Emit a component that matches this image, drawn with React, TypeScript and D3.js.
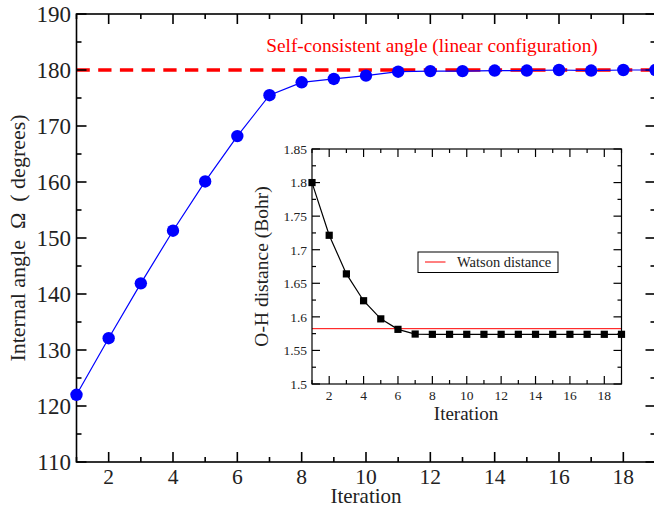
import React from "react";
import * as d3 from "d3";

const iterations = d3.range(1, 20);
const angleValues = [122.0, 132.1, 141.9, 151.3, 160.1, 168.2, 175.5, 177.8, 178.4, 179.0, 179.7, 179.8, 179.8, 179.9, 179.9, 180.0, 179.9, 180.0, 180.0];
const ohValues = [1.8, 1.7215, 1.664, 1.624, 1.597, 1.5814, 1.5744, 1.574, 1.574, 1.574, 1.574, 1.574, 1.574, 1.574, 1.574, 1.574, 1.574, 1.574, 1.574];
const selfConsistentAngle = 180;
const watsonDistance = 1.5824;
const mainYTicks = [110, 120, 130, 140, 150, 160, 170, 180, 190];
const mainXTicks = [2, 4, 6, 8, 10, 12, 14, 16, 18];
const insetYTicks = [1.5, 1.55, 1.6, 1.65, 1.7, 1.75, 1.8, 1.85];
const insetXTicks = [2, 4, 6, 8, 10, 12, 14, 16, 18];

const FONT = "'Liberation Serif', 'DejaVu Serif', serif";

function Frame({ x, y, major, minorX, minorY, majorY, len, lenMinor, sw }: any) {
  const [x0, x1] = x.range();
  const [y0, y1] = y.range(); // y0 bottom, y1 top
  const out: any[] = [];
  minorX.forEach((v: number, i: number) => {
    const px = x(v);
    const L = major.includes(v) ? len : lenMinor;
    out.push(<line key={"xb" + i} x1={px} x2={px} y1={y0} y2={y0 - L} stroke="#000" strokeWidth={sw} />);
    out.push(<line key={"xt" + i} x1={px} x2={px} y1={y1} y2={y1 + L} stroke="#000" strokeWidth={sw} />);
  });
  minorY.forEach((v: number, i: number) => {
    const py = y(v);
    const L = majorY.some((m: number) => Math.abs(m - v) < 1e-9) ? len : lenMinor;
    out.push(<line key={"yl" + i} x1={x0} x2={x0 + L} y1={py} y2={py} stroke="#000" strokeWidth={sw} />);
    out.push(<line key={"yr" + i} x1={x1} x2={x1 - L} y1={py} y2={py} stroke="#000" strokeWidth={sw} />);
  });
  return (
    <g>
      {out}
      <rect x={x0} y={y1} width={x1 - x0} height={y0 - y1} fill="none" stroke="#000" strokeWidth={sw} />
    </g>
  );
}

export default function App() {
  const W = 654, H = 507;
  const x = d3.scaleLinear().domain([1, 19]).range([76.5, 655.5]);
  const y = d3.scaleLinear().domain([110, 190]).range([462, 14]);
  const xi = d3.scaleLinear().domain([1, 19]).range([312, 621.5]);
  const yi = d3.scaleLinear().domain([1.5, 1.85]).range([384, 149]);

  const mainLine = d3.line<number>().x((_, i) => x(iterations[i])).y((d) => y(d));
  const insetLine = d3.line<number>().x((_, i) => xi(iterations[i])).y((d) => yi(d));

  const mainMinorX = d3.range(1, 20);
  const mainMinorY = d3.range(110, 191, 5);
  const insetMinorX = d3.range(1, 20);
  const insetMinorY = d3.range(0, 15).map((k) => 1.5 + k * 0.025);

  return (
    <svg width={W} height={H} style={{ position: "absolute", left: 0, top: 0, background: "#fff" }} fontFamily={FONT}>
      <rect x={0} y={0} width={W} height={H} fill="#fff" />
      {/* main chart */}
      <line x1={x.range()[0]} x2={x.range()[1]} y1={y(selfConsistentAngle)} y2={y(selfConsistentAngle)} stroke="#ff0000" strokeWidth={3.3} strokeDasharray="13.3 8.4" />
      <Frame x={x} y={y} major={mainXTicks} minorX={mainMinorX} minorY={mainMinorY} majorY={mainYTicks} len={10} lenMinor={5} sw={1.6} />
      <path d={mainLine(angleValues) || ""} fill="none" stroke="#0000ff" strokeWidth={1.2} />
      {angleValues.map((v, i) => (
        <circle key={i} cx={x(iterations[i])} cy={y(v)} r={6.2} fill="#0000ff" />
      ))}
      {mainYTicks.map((t) => (
        <text key={t} x={71} y={y(t)} dy="0.36em" textAnchor="end" fontSize={23} fill="#222">{t}</text>
      ))}
      {mainXTicks.map((t) => (
        <text key={t} x={x(t)} y={476.5} dy="0.36em" textAnchor="middle" fontSize={21.5} fill="#222">{t}</text>
      ))}
      <text x={366} y={502.5} textAnchor="middle" fontSize={21} fill="#222">Iteration</text>
      <text transform={`translate(17,${(14 + 462) / 2}) rotate(-90)`} dy="0.36em" textAnchor="middle" fontSize={22} fill="#222" style={{ whiteSpace: "pre" }}>
        {"Internal angle  \u03A9  ( degrees)"}
      </text>
      <text x={432} y={45} dy="0.36em" textAnchor="middle" fontSize={19.3} fill="#ff0000">Self-consistent angle (linear configuration)</text>

      {/* inset */}
      <rect x={xi.range()[0]} y={yi.range()[1]} width={xi.range()[1] - xi.range()[0]} height={yi.range()[0] - yi.range()[1]} fill="#fff" />
      <line x1={xi.range()[0]} x2={xi.range()[1]} y1={yi(watsonDistance)} y2={yi(watsonDistance)} stroke="#ff0000" strokeWidth={1} />
      <path d={insetLine(ohValues) || ""} fill="none" stroke="#000" strokeWidth={1.2} />
      {ohValues.map((v, i) => (
        <rect key={i} x={xi(iterations[i]) - 3.6} y={yi(v) - 3.6} width={7.2} height={7.2} fill="#000" />
      ))}
      <Frame x={xi} y={yi} major={insetXTicks} minorX={insetMinorX} minorY={insetMinorY} majorY={insetYTicks} len={8} lenMinor={4} sw={1.2} />
      {insetYTicks.map((t) => (
        <text key={t} x={307} y={yi(t)} dy="0.36em" textAnchor="end" fontSize={13.5} fill="#222">{String(t)}</text>
      ))}
      {insetXTicks.map((t) => (
        <text key={t} x={xi(t)} y={395} dy="0.36em" textAnchor="middle" fontSize={13.5} fill="#222">{t}</text>
      ))}
      <text x={466} y={413} dy="0.36em" textAnchor="middle" fontSize={19} fill="#222">Iteration</text>
      <text transform={`translate(260.5,${(149 + 384) / 2}) rotate(-90)`} dy="0.36em" textAnchor="middle" fontSize={19.5} fill="#222">O-H distance (Bohr)</text>
      {/* legend */}
      <rect x={418} y={252} width={140} height={20.5} fill="#fff" stroke="#000" strokeWidth={1} />
      <line x1={425} x2={445.5} y1={262} y2={262} stroke="#ff0000" strokeWidth={1} />
      <text x={457} y={262} dy="0.36em" fontSize={14.5} fill="#222">Watson distance</text>
    </svg>
  );
}
